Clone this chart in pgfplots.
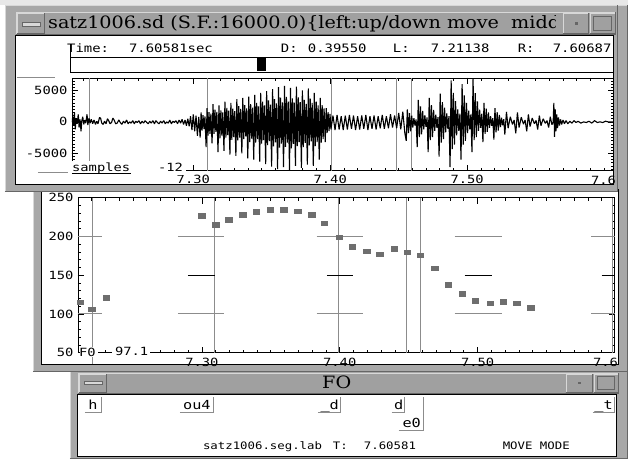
\documentclass[border=0pt]{standalone}
\usepackage{pgfplots}
\pgfplotsset{compat=1.18}
\usepackage{fontspec}
\setmainfont{Liberation Sans}
\newfontfamily\ttl[FakeStretch=1.13]{DejaVu Serif}
\newfontfamily\mono[FakeStretch=1.2]{DejaVu Sans Mono}
\newfontfamily\pix[FakeStretch=1.22]{DejaVu Sans Mono}
\definecolor{frm}{HTML}{A8A8A8}
\definecolor{ttb}{HTML}{A0A0A0}
\definecolor{lt}{HTML}{D8D8D8}
\definecolor{dk}{HTML}{666666}
\definecolor{grl}{HTML}{8C8C8C}
\definecolor{mk}{HTML}{6E6E6E}
\newcommand\fttl{\ttl\fontsize{17}{18}\selectfont}
\newcommand\finfo{\mono\fontsize{11.6}{13}\selectfont}
\newcommand\fstat{\mono\fontsize{10.3}{12}\selectfont}
\newcommand\ftick{\pix\fontsize{11.3}{12}\selectfont}
\newcommand\flab{\pix\fontsize{12.5}{14}\selectfont}
% window frame in image coords: x1,y1,x2,y2 (y downward)
\newcommand\win[4]{%
  \fill[frm] (#1,459-#4) rectangle (#3,459-#2);
  \draw[lt,line width=1pt] (#1+.5,459-#4) -- (#1+.5,459-#2-.5) -- (#3,459-#2-.5);
  \draw[dk,line width=1pt] (#1,459-#4+.5) -- (#3-.5,459-#4+.5) -- (#3-.5,459-#2);
}
\newcommand\btn[4]{%
  \fill[ttb] (#1,459-#4) rectangle (#3,459-#2);
  \draw[lt,line width=0.8pt] (#1+.4,459-#4) -- (#1+.4,459-#2-.4) -- (#3,459-#2-.4);
  \draw[dk,line width=0.8pt] (#1,459-#4+.4) -- (#3-.4,459-#4+.4) -- (#3-.4,459-#2);
}
\newcommand\hseg[4]{\draw[#4,line width=1pt] (axis cs:#1,#3) -- (axis cs:#2,#3);}
\begin{document}
\begin{tikzpicture}[x=1pt,y=1pt]
\path[fill=white] (0,0) rectangle (628,459);
\fill[lt!60!white] (0,459) rectangle (628,454);
% ---------------- bottom window (label window)
\win{70}{368}{628}{459}
\btn{78}{373}{619}{394}
\btn{79}{374}{107}{393}
\fill[lt] (84,459-385) rectangle (102,459-382);
\draw[dk,line width=0.6pt] (84,459-385) rectangle (102,459-382);
\btn{566}{374}{593}{393}
\fill[dk] (578,459-384.5) rectangle (581,459-382);
\btn{594}{374}{619}{393}
\draw[dk,line width=0.8pt] (598,459-390) rectangle (615,459-377);
\node[font=\fttl] at (337,459-383) {FO};
\fill[white] (78,459-457) rectangle (617,459-395);
\draw[black,line width=1pt] (78,459-457) rectangle (617,459-395);
\begin{scope}[font=\flab]
  \node[anchor=base] at (93,459-410) {h};
  \draw[grl,line width=0.8pt] (85,459-413) -- (101,459-413) -- (101,459-397);
  \node[anchor=base] at (197,459-410) {ou4};
  \draw[grl,line width=0.8pt] (180,459-413) -- (214,459-413) -- (214,459-397);
  \node[anchor=base] at (330,459-410) {\_d};
  \draw[grl,line width=0.8pt] (318,459-413) -- (341,459-413) -- (341,459-397);
  \node[anchor=base] at (399,459-410) {d};
  \draw[grl,line width=0.8pt] (392,459-413) -- (405,459-413) -- (405,459-397);
  \node[anchor=base] at (412,459-428) {e0};
  \draw[grl,line width=0.8pt] (399,459-431) -- (424,459-431) -- (424,459-397);
  \node[anchor=base] at (604,459-410) {\_t};
  \draw[grl,line width=0.8pt] (593,459-413) -- (615,459-413) -- (615,459-397);
\end{scope}
\begin{scope}[font=\fstat]
  \node[anchor=base west,inner sep=0pt] at (203,459-450) {satz1006.seg.lab};
  \node[anchor=base west,inner sep=0pt] at (333,459-450) {T:};
  \node[anchor=base west,inner sep=0pt] at (364,459-450) {7.60581};
  \node[anchor=base west,inner sep=0pt] at (503,459-450) {MOVE MODE};
\end{scope}
% ---------------- middle window (F0)
\win{33}{5}{628}{372}
\fill[white] (42,459-365) rectangle (619,459-190);
\draw[black,line width=1pt] (42,459-365) rectangle (619,459-190);
\begin{axis}[at={(78pt,106pt)}, anchor=south west, scale only axis,
  width=537pt, height=155pt, clip=false,
  xmin=210.1, xmax=599.3, ymin=50, ymax=250,
  axis line style={black,line width=0.8pt},
  xtick={300,400,500}, xticklabels={7.30,7.40,7.50},
  minor xtick={220,230,...,590},
  ytick={50,100,150,200,250}, yticklabels={50,100,150,200,250},
  minor ytick={60,70,...,240},
  tick align=inside, major tick length=6pt, minor tick length=3pt,
  tick style={black,line width=0.7pt},
  xtick pos=both, ytick pos=both,
  ticklabel style={font=\ftick},
  yticklabel style={xshift=-1pt,anchor=east},
  xticklabel style={yshift=-2pt}]
  \draw[grl,line width=1pt] (axis cs:220.3,36) -- (axis cs:220.3,250);
  \draw[grl,line width=1pt] (axis cs:309.4,50) -- (axis cs:309.4,250);
  \draw[grl,line width=1pt] (axis cs:399.3,50) -- (axis cs:399.3,250);
  \draw[grl,line width=1pt] (axis cs:448.6,50) -- (axis cs:448.6,250);
  \draw[grl,line width=1pt] (axis cs:458.7,50) -- (axis cs:458.7,250);
  \draw[grl,line width=1pt] (axis cs:597.5,50) -- (axis cs:597.5,250);
  \hseg{210.1}{227.5}{200}{grl}\hseg{282.6}{315.9}{200}{grl}\hseg{383.3}{416.7}{200}{grl}
  \hseg{483.3}{517.4}{200}{grl}\hseg{582.6}{599.3}{200}{grl}
  \hseg{210.1}{227.5}{100}{grl}\hseg{282.6}{315.9}{100}{grl}\hseg{383.3}{416.7}{100}{grl}
  \hseg{483.3}{517.4}{100}{grl}\hseg{582.6}{599.3}{100}{grl}
  \hseg{289.9}{309.4}{150}{black}\hseg{390.6}{409.4}{150}{black}
  \hseg{490.6}{510.1}{150}{black}\hseg{589.9}{599.3}{150}{black}
  \addplot[only marks, mark=square*, mark size=2.3pt,
    mark options={fill=mk,draw=mk,xscale=1.4}] coordinates {
    (211.6,115) (220.1,106) (230.4,121)
    (300.0,227) (309.9,215) (319.3,222) (329.7,228) (339.3,232) (349.5,235)
    (359.4,235) (369.6,233) (379.5,228) (388.9,217) (399.5,199) (408.9,187)
    (419.6,181) (429.0,177) (439.6,184) (449.1,180) (458.5,176) (468.8,159)
    (478.5,138) (488.9,126.5) (498.3,117) (509.2,114) (518.6,115.5)
    (528.3,114) (538.6,108.5)};
\end{axis}
\fill[white] (80,459-357) rectangle (98,459-347);
\node[anchor=base west,font=\ftick,inner sep=0pt] at (79,459-357) {F0};
\fill[white] (112,459-358) rectangle (150,459-346);
\node[anchor=base west,font=\ftick,inner sep=0pt] at (115,459-356) {97.1};
\node[anchor=north,font=\ftick] at (606,459-355) {7.6};
% ---------------- top window (waveform)
\win{5}{5}{618}{192}
\btn{16}{12}{616}{35}
\btn{17}{13}{45}{34}
\fill[lt] (22,459-26) rectangle (40,459-22);
\draw[dk,line width=0.6pt] (22,459-26) rectangle (40,459-22);
\btn{563}{13}{589}{34}
\fill[dk] (575,459-25) rectangle (578,459-22);
\btn{590}{13}{616}{34}
\draw[dk,line width=0.8pt] (594,459-30) rectangle (612,459-16);
\begin{scope}
  \clip (46,459-34) rectangle (556,459-13);
  \node[anchor=base west,font=\fttl,inner sep=0pt] at (48,459-28.5) {satz1006.sd (S.F.:16000.0)\{left:up/down move\ \ middle};
\end{scope}
\fill[white] (16,459-185) rectangle (614,459-36);
\draw[black,line width=1pt] (16,459-185) rectangle (614,459-36);
\begin{scope}[font=\finfo]
  \node[anchor=base west,inner sep=0pt] at (67,459-53) {Time:};
  \node[anchor=base west,inner sep=0pt] at (129,459-53) {7.60581sec};
  \node[anchor=base west,inner sep=0pt] at (281,459-53) {D:};
  \node[anchor=base west,inner sep=0pt] at (308,459-53) {0.39550};
  \node[anchor=base west,inner sep=0pt] at (393,459-53) {L:};
  \node[anchor=base west,inner sep=0pt] at (431,459-53) {7.21138};
  \node[anchor=base west,inner sep=0pt] at (518,459-53) {R:};
  \node[anchor=base west,inner sep=0pt] at (553,459-53) {7.60687};
\end{scope}
\draw[black,line width=0.8pt] (70,459-72) rectangle (614,459-57);
\draw[black,line width=0.8pt] (70,459-57) -- (70,459-44);
\fill[black] (257,459-71) rectangle (266,459-58);
\draw[grl,line width=1pt] (17,459-78) -- (55,459-78);
\draw[grl,line width=1pt] (38,459-173) -- (68,459-173);
\begin{axis}[at={(72pt,288pt)}, anchor=south west, scale only axis,
  width=542pt, height=93pt,
  xmin=211.38, xmax=606.87, ymin=-7780, ymax=6980,
  axis line style={black,line width=0.8pt},
  xtick={300,400,500}, xticklabels={7.30,7.40,7.50},
  minor xtick={220,230,...,600},
  ytick={-5000,0,5000}, yticklabels={-5000,0,5000},
  minor ytick={-7500,-7000,...,6500},
  tick align=inside, major tick length=6pt, minor tick length=3pt,
  tick style={black,line width=0.7pt},
  xtick pos=both, ytick pos=both,
  ticklabel style={font=\ftick},
  yticklabel style={xshift=-1pt,anchor=east},
  xticklabel style={yshift=-0.5pt}]
  \draw[grl,line width=1pt] (axis cs:224.1,-7780) -- (axis cs:224.1,6980);
  \draw[grl,line width=1pt] (axis cs:310.2,-7780) -- (axis cs:310.2,6980);
  \draw[grl,line width=1pt] (axis cs:400.6,-7780) -- (axis cs:400.6,6980);
  \draw[grl,line width=1pt] (axis cs:448.1,-7780) -- (axis cs:448.1,6980);
  \draw[grl,line width=1pt] (axis cs:459.7,-7780) -- (axis cs:459.7,6980);
  \draw[black,line width=0.7pt] (axis cs:211.38,5000) -- ++(15pt,0);
  \draw[black,line width=0.7pt] (axis cs:211.38,0) -- ++(9pt,0);
  \draw[black,line width=0.7pt] (axis cs:211.38,-5000) -- ++(15pt,0);
  \addplot[black,line width=1.1pt,line join=bevel] coordinates {
(211.4,0) (212.0,800) (212.6,-600) (213.2,1500) (213.8,-1200) (214.5,600)
(215.2,-300) (216.0,1200) (216.6,-900) (217.3,400) (218.0,-1500) (218.6,200)
(219.3,800) (220.0,-400) (220.8,300) (221.5,-200) (222.4,1200) (223.0,-500)
(223.8,600) (224.6,-200) (225.5,400) (226.5,-300) (227.5,300) (228.6,-400)
(229.5,100) (230.4,-300) (231.5,700) (232.3,600) (233.2,-200) (234.2,-400)
(235.2,100) (236.3,-300) (237.3,500) (238.2,200) (239.2,-300) (240.3,-100)
(241.3,600) (242.2,300) (243.3,-300) (244.4,-200) (245.6,300) (246.7,-100)
(247.8,-400) (249.0,100) (250.1,-200) (251.3,300) (252.4,-300) (253.5,0)
(254.6,-200) (255.8,200) (256.9,-300) (258.0,100) (259.1,-100) (260.3,200)
(261.4,-300) (262.6,100) (263.7,-200) (264.8,200) (266.0,-100) (267.1,-300)
(268.2,100) (269.3,-200) (270.5,200) (271.6,-300) (272.7,200) (273.8,-100)
(275.0,-300) (276.1,100) (277.2,-200) (278.4,200) (279.5,-300) (280.6,0)
(281.7,-200) (282.8,300) (284.0,-300) (285.1,100) (286.2,-100) (287.3,200)
(288.5,-300) (289.6,300) (290.7,-200) (291.8,400) (292.9,-400) (294.0,300)
(295.0,-600) (296.0,500) (297.0,-700) (298.0,900) (299.0,-1300) (300.0,1200)
(301.0,-1500) (302.0,1000) (303.0,-2200) (304.0,800)
(305.0,-2500) (305.7,1500) (306.4,-1400) (307.1,1050) (307.8,-1150) (308.5,850)
(309.35,-4000) (310.05,2200) (310.75,-2200) (311.45,1540) (312.15,-1900) (312.85,1300)
(313.7,-3400) (314.4,2800) (315.1,-1900) (315.8,1960) (316.5,-1600) (317.2,1600)
(318.05,-4800) (318.75,2600) (319.45,-2600) (320.15,1820) (320.85,-2200) (321.55,1500)
(322.4,-4600) (323.1,3200) (323.8,-2500) (324.5,2240) (325.2,-2100) (325.9,1800)
(326.75,-5200) (327.45,3000) (328.15,-2850) (328.85,2100) (329.55,-2400) (330.25,1700)
(331.1,-5400) (331.8,3600) (332.5,-2950) (333.2,2500) (333.9,-2500) (334.6,2050)
(335.45,-5000) (336.15,3800) (336.85,-2750) (337.55,2650) (338.25,-2300) (338.95,2150)
(339.8,-5800) (340.5,4000) (341.2,-3200) (341.9,2800) (342.6,-2650) (343.3,2250)
(344.15,-6000) (344.85,4300) (345.55,-3300) (346.25,3000) (346.95,-2750) (347.65,2450)
(348.5,-6300) (349.2,4600) (349.9,-3450) (350.6,3200) (351.3,-2900) (352.0,2600)
(352.85,-6700) (353.55,4900) (354.25,-3700) (354.95,3400) (355.65,-3050) (356.35,2750)
(357.2,-7100) (357.9,5200) (358.6,-3900) (359.3,3600) (360.0,-3250) (360.7,2950)
(361.55,-7500) (362.25,5500) (362.95,-4100) (363.65,3850) (364.35,-3450) (365.05,3100)
(365.9,-7200) (366.6,5700) (367.3,-3950) (368.0,3950) (368.7,-3300) (369.4,3200)
(370.25,-7700) (370.95,5400) (371.65,-4200) (372.35,3750) (373.05,-3500) (373.75,3050)
(374.6,-7000) (375.3,5600) (376.0,-3850) (376.7,3900) (377.4,-3200) (378.1,3150)
(378.95,-7300) (379.65,5000) (380.35,-4000) (381.05,3500) (381.75,-3350) (382.45,2850)
(383.3,-6800) (384.0,5300) (384.7,-3750) (385.4,3700) (386.1,-3100) (386.8,3000)
(387.65,-7000) (388.35,4600) (389.05,-3850) (389.75,3200) (390.45,-3200) (391.15,2600)
(392.0,-6000) (392.7,3800) (393.4,-3300) (394.1,2650) (394.8,-2750) (395.5,2150)
(396.35,-3200) (397.05,2200) (397.75,-1750) (398.45,1550) (399.15,-1450) (399.85,1250)
(400.5,-1200) (402.0,1000) (403.5,-1300) (405.0,1100) (406.5,-1200) (408.0,900)
(409.5,-1300) (411.0,1000) (412.5,-1200) (414.0,1100) (415.5,-1100) (417.0,1000)
(418.5,-1300) (420.0,900) (421.5,-1200) (423.0,1000) (424.5,-1100) (426.0,1100)
(427.5,-1300) (429.0,900) (430.5,-1100) (432.0,1000) (433.5,-1200) (435.0,900)
(436.5,-1000) (438.0,1100) (439.5,-1100) (441.0,900) (442.5,-1000) (444.0,1200)
(445.5,-900) (447.0,1000) (448.5,-1000) (450.0,1400) (451.5,-1200) (453.0,1600)
(454.5,-1800)
(455.5,-3000) (456.3,2000) (457.1,-1800) (457.9,1400) (458.7,-1500) (459.5,1000)
(460.3,-900) (461.1,600) (461.9,-600) (462.7,400)
(463.5,-4000) (464.3,3500) (465.1,-2400) (465.9,2450) (466.7,-2000) (467.5,1750)
(468.3,-1200) (469.1,1050) (469.9,-800) (470.7,700)
(471.5,-4800) (472.3,3800) (473.1,-2880) (473.9,2660) (474.7,-2400) (475.5,1900)
(476.3,-1440) (477.1,1140) (477.9,-960) (478.7,760)
(479.5,-5500) (480.3,4500) (481.1,-3300) (481.9,3150) (482.7,-2750) (483.5,2250)
(484.3,-1650) (485.1,1350) (485.9,-1100) (486.7,900)
(487.5,-7200) (488.3,6600) (489.1,-4320) (489.9,4620) (490.7,-3600) (491.5,3300)
(492.3,-2160) (493.1,1980) (493.9,-1440) (494.7,1320)
(495.5,-6000) (496.3,6000) (497.1,-3600) (497.9,4200) (498.7,-3000) (499.5,3000)
(500.3,-1800) (501.1,1800) (501.9,-1200) (502.7,1200)
(503.5,-4800) (504.3,6900) (505.1,-2880) (505.9,4550) (506.7,-2400) (507.5,3250)
(508.3,-1440) (509.1,1950) (509.9,-960) (510.7,1300)
(511.5,-3200) (512.3,3000) (513.1,-1920) (513.9,2100) (514.7,-1600) (515.5,1500)
(516.3,-960) (517.1,900) (517.9,-640) (518.7,600)
(519.5,-2800) (520.3,2200) (521.1,-1680) (521.9,1540) (522.7,-1400) (523.5,1100)
(524.3,-840) (525.1,660) (525.9,-560) (526.7,440)
(527.5,-2000) (528.7,1600) (529.9,-1000) (531.5,800) (533.1,-400) (534.3,300)
(535.5,-1800) (536.7,1500) (537.9,-900) (539.5,750) (541.1,-360) (542.3,300)
(543.5,-1500) (544.7,1200) (545.9,-750) (547.5,600) (549.1,-300) (550.3,240)
(551.5,-1200) (552.7,1000) (553.9,-600) (555.5,500) (557.1,-240) (558.3,200)
(559.5,-900) (560.7,800) (561.9,-450) (562.8,0)
(563.3,3000) (563.8,-2400) (564.3,2000) (564.8,-1500) (565.4,1200) (566.0,-1000)
(566.7,700) (567.4,-600) (568.2,400) (569.0,-400) (570.0,300) (571.0,-300)
(572.2,200) (573.5,-300) (575.0,100) (576.5,-200) (578.0,200) (579.5,-100)
(581.0,100) (583.0,-200) (585.0,0) (587.0,-100) (589.0,100) (591.0,-200)
(593.0,200) (595.0,-100) (597.0,0) (599.0,-100) (601.0,100) (603.0,0) (606.8,0)};
\end{axis}
\fill[white] (70,459-175) rectangle (186,459-161);
\node[anchor=base west,font=\ftick,inner sep=0pt] at (72,459-172) {samples};
\draw[black,line width=0.8pt] (72,459-173.5) -- (131,459-173.5);
\node[anchor=base west,font=\ftick,inner sep=0pt] at (158,459-172) {-12};
\node[anchor=north,font=\ftick] at (604,459-173) {7.6};
\end{tikzpicture}
\end{document}
